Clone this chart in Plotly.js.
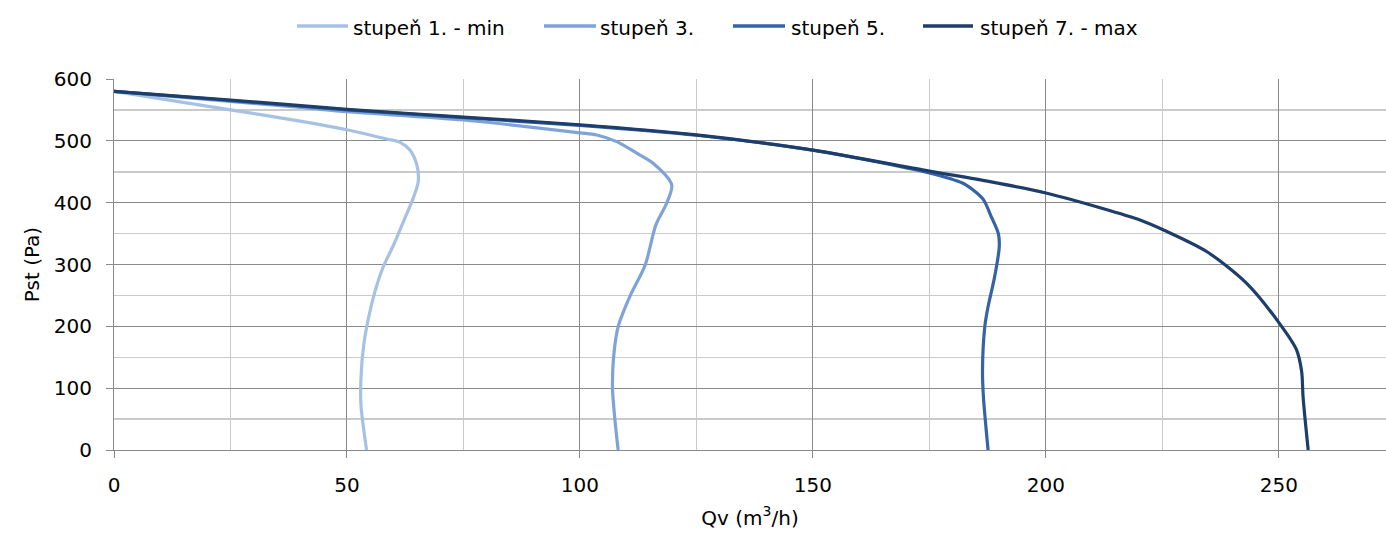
<!DOCTYPE html>
<html>
<head>
<meta charset="utf-8">
<script src="https://cdn.plot.ly/plotly-3.0.1.min.js"></script>
<style>html,body{margin:0;padding:0;background:#fff;}#chart{width:1386px;height:538px;}</style>
</head>
<body>
<div id="chart"></div>
<script>
// Series names
const seriesNames = ["stupeň 1. - min", "stupeň 3.", "stupeň 5.", "stupeň 7. - max"];

// Qv (m3/h) and Pst (Pa) for each fan speed step
const qv1 = [0, 25, 39.9, 50.2, 58.5, 61.4, 63.5, 65, 65.3, 64.2, 62.1, 60, 57.8, 56, 54.6, 53.6, 53, 53, 54.2];
const ps1 = [580, 550, 532, 517.6, 503, 497.6, 485, 461, 434, 407, 369, 331.5, 296.5, 256, 213, 170, 116, 73, 0];

const qv3 = [0, 40, 50, 75, 100, 103.6, 107.9, 112.2, 115.7, 119.7, 118.6, 116.3, 114, 110.7, 108.2, 107.2, 107, 107.5, 108.2];
const ps3 = [580, 554, 547, 533.7, 513, 509.5, 498.7, 480, 463.7, 428.6, 399, 364, 299, 248, 199.4, 148, 98, 49.6, 0];

const qv5 = [0, 50, 100, 125, 150, 175, 182.3, 184.4, 186.6, 188.3, 189.8, 190, 189, 187.6, 186.9, 186.4, 186.6, 187.6];
const ps5 = [580, 550, 525, 509, 485, 448, 431, 420.5, 405, 377, 350, 329, 280, 232, 200, 129, 86, 0];

const qv7 = [0, 25, 50, 75, 100, 125, 150, 175, 188, 200, 212, 220.2, 225.5, 234.5, 243.1, 250.4, 253.8, 254.9, 255.2, 256.3];
const ps7 = [580, 566, 551, 538.5, 526, 509.5, 485, 451, 434, 415.6, 391, 372, 355, 321, 269.6, 202, 162, 126.6, 86, 0];

const colors = ["#a7c1e4", "#7fa3d7", "#3563a6", "#1d3e6b"];
const xs = [qv1, qv3, qv5, qv7];
const ys = [ps1, ps3, ps5, ps7];

const traces = seriesNames.map((n, i) => ({
  x: xs[i], y: ys[i], name: n, type: "scatter", mode: "lines",
  line: {color: colors[i], width: 3.2, shape: "spline", smoothing: 0.8},
  hoverinfo: "skip", showlegend: false
}));

// Manual legend layout (pixel positions of the legend row, converted to paper coords)
const plotL = 114, plotW = 1272, plotB = 450, plotH = 371;
const px = v => (v - plotL) / plotW;
const py = v => (plotB - v) / plotH;
const legLineStart = [297, 544, 733, 923];
const legLineEnd = [348, 596, 785, 973];
const legTextStart = [351, 598, 789, 978];

const shapes = seriesNames.map((n, i) => ({
  type: "line", xref: "paper", yref: "paper",
  x0: px(legLineStart[i]), x1: px(legLineEnd[i]), y0: py(26), y1: py(26),
  line: {color: colors[i], width: 3.5}
}));
const annotations = seriesNames.map((n, i) => ({
  text: n, xref: "paper", yref: "paper", x: px(legTextStart[i]), y: py(28),
  xanchor: "left", yanchor: "middle", showarrow: false,
  font: {family: "DejaVu Sans", size: 20, color: "#000"}
}));

const major = "#8a8a8a", minorC = "#cacaca";
const layout = {
  width: 1386, height: 538,
  margin: {l: 114, r: 0, t: 79, b: 88},
  paper_bgcolor: "#fff", plot_bgcolor: "#fff",
  font: {family: "DejaVu Sans", size: 20, color: "#000"},
  showlegend: false,
  shapes: shapes,
  annotations: annotations,
  xaxis: {
    range: [0, 273], dtick: 50, tick0: 0,
    showgrid: true, gridcolor: major, gridwidth: 1,
    minor: {dtick: 25, showgrid: true, gridcolor: minorC, gridwidth: 1.5, ticks: ""},
    showline: true, linecolor: major, linewidth: 1,
    ticks: "outside", ticklen: 7, tickcolor: major,
    ticklabelstandoff: 10,
    zeroline: false,
    title: {text: "Qv (m<sup>3</sup>/h)", standoff: 14, font: {size: 20}}
  },
  yaxis: {
    range: [0, 600], dtick: 100, tick0: 0,
    showgrid: true, gridcolor: major, gridwidth: 1,
    minor: {dtick: 50, showgrid: true, gridcolor: minorC, gridwidth: 1.5, ticks: ""},
    showline: true, linecolor: major, linewidth: 1,
    ticks: "outside", ticklen: 7, tickcolor: major,
    ticklabelstandoff: 10,
    zeroline: false,
    title: {text: "Pst (Pa)", standoff: 8, font: {size: 20}}
  }
};

Plotly.newPlot("chart", traces, layout, {displayModeBar: false, staticPlot: true});
</script>
</body>
</html>
